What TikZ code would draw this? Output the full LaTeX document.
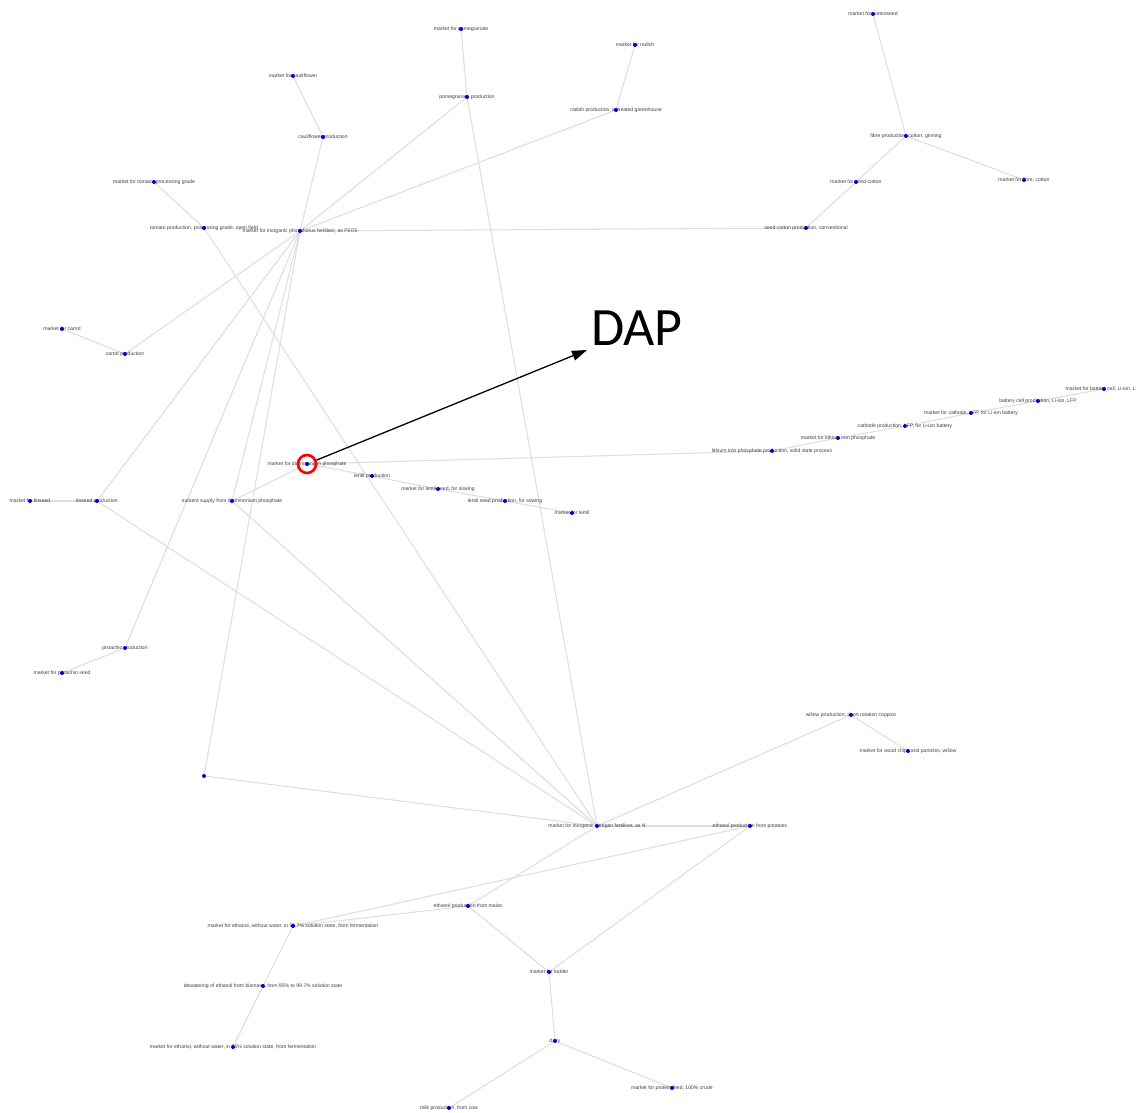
\documentclass[tikz,border=0pt]{standalone}
\usepackage{fontspec}
\setmainfont{Liberation Sans}
\newfontfamily\dapfont{Carlito}
\usetikzlibrary{arrows.meta}
\pgfdeclarelayer{bg}\pgfsetlayers{bg,main}
\newcommand\gnode[4]{\node[lbl] (#1l) at (#2,#3) {#4};\node[dot] (#1) at (#2,#3) {};}
\begin{document}
\begin{tikzpicture}[x=1pt,y=-1pt,
  dot/.style={circle,fill=blue!85!black,inner sep=0pt,minimum size=4pt},
  lbl/.style={font=\fontsize{5.1}{6}\selectfont,text=black!75,inner sep=0pt},
  edge/.style={draw=black!13,line width=1.05pt}]
\useasboundingbox (0,0) rectangle (1136,1112);
\gnode{n1}{461}{29}{market for pomegranate}
\gnode{n2}{467}{97}{pomegranate production}
\gnode{n3}{293}{76}{market for cauliflower}
\gnode{n4}{323}{137}{cauliflower production}
\gnode{n5}{635}{45}{market for radish}
\gnode{n6}{616}{110}{radish production, in heated greenhouse}
\gnode{n7}{154}{182}{market for tomato, processing grade}
\gnode{n8}{204}{228}{tomato production, processing grade, open field}
\gnode{n9}{300}{231}{market for inorganic phosphorus fertiliser, as P2O5}
\gnode{n10}{873}{14}{market for cottonseed}
\gnode{n11}{906}{136}{fibre production, cotton, ginning}
\gnode{n12}{856}{182}{market for seed-cotton}
\gnode{n13}{1024}{180}{market for fibre, cotton}
\gnode{n14}{806}{228}{seed-cotton production, conventional}
\gnode{n15}{62}{329}{market for carrot}
\gnode{n16}{125}{354}{carrot production}
\gnode{n17}{307}{464}{market for diammonium phosphate}
\gnode{n18}{232}{501}{nutrient supply from diammonium phosphate}
\gnode{n19}{30}{501}{market for linseed}
\gnode{n20}{97}{501}{linseed production}
\gnode{n21}{372}{476}{lentil production}
\gnode{n22}{438}{489}{market for lentil seed, for sowing}
\gnode{n23}{505}{501}{lentil seed production, for sowing}
\gnode{n24}{572}{513}{market for lentil}
\gnode{n25}{772}{451}{lithium iron phosphate production, solid state process}
\gnode{n26}{838}{438}{market for lithium iron phosphate}
\gnode{n27}{905}{426}{cathode production, LFP, for Li-ion battery}
\gnode{n28}{971}{413}{market for cathode, LFP, for Li-ion battery}
\gnode{n29}{1038}{401}{battery cell production, Li-ion, LFP}
\gnode{n30}{1104}{389}{market for battery cell, Li-ion, LFP}
\gnode{n31}{125}{648}{pistachio production}
\gnode{n32}{62}{673}{market for pistachio seed}
\node[dot] (n33) at (204,776) {};
\gnode{n34}{597}{826}{market for inorganic nitrogen fertiliser, as N}
\gnode{n35}{851}{715}{willow production, short rotation coppice}
\gnode{n36}{908}{751}{market for wood chips and particles, willow}
\gnode{n37}{750}{826}{ethanol production from potatoes}
\gnode{n38}{468}{906}{ethanol production from maize}
\gnode{n39}{293}{926}{market for ethanol, without water, in 99.7\% solution state, from fermentation}
\gnode{n40}{263}{986}{dewatering of ethanol from biomass, from 95\% to 99.7\% solution state}
\gnode{n41}{233}{1047}{market for ethanol, without water, in 95\% solution state, from fermentation}
\gnode{n42}{549}{972}{market for fodder}
\gnode{n43}{555}{1041}{dairy}
\gnode{n44}{672}{1088}{market for protein feed, 100\% crude}
\gnode{n45}{449}{1108}{milk production, from cow}
\begin{pgfonlayer}{bg}
\fill[white] (0,0) rectangle (1136,1112);
\foreach \a/\b in {n1/n2,n2/n9,n2/n34,n3/n4,n4/n9,n5/n6,n6/n9,n7/n8,n8/n34,
  n10/n11,n11/n12,n11/n13,n12/n14,n14/n9,n15/n16,n16/n9,n17/n18,n17/n21,n17/n25,
  n18/n34,n18/n9,n19/n20,n20/n9,n20/n34,n21/n22,n22/n23,n23/n24,n25/n26,n26/n27,
  n27/n28,n28/n29,n29/n30,n31/n32,n31/n9,n33/n9,n33/n34,n35/n34,n35/n36,n37/n34,
  n37/n39,n38/n39,n38/n34,n38/n42,n37/n42,n42/n43,n43/n44,n43/n45,n39/n40,n40/n41}
  \draw[edge] (\a) -- (\b);
\end{pgfonlayer}
\node[circle,draw=red,line width=2.6pt,minimum size=18pt,inner sep=0pt] (ring) at (n17) {};
\coordinate (tip) at (587,350);
\draw[line width=1.3pt,-{Triangle[length=15pt,width=10pt]}] (ring) -- (tip);
\node[font=\dapfont\fontsize{54}{60}\selectfont,inner sep=0pt] (dap) at (637,328) {DAP};
\end{tikzpicture}
\end{document}
